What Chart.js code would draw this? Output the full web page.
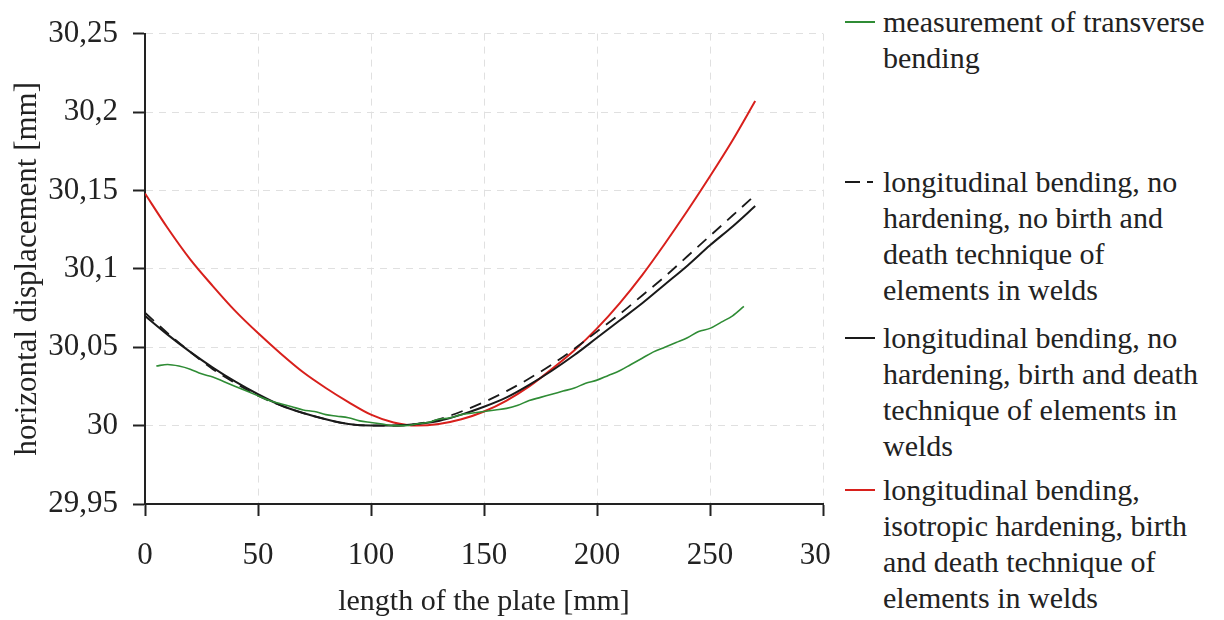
<!DOCTYPE html>
<html>
<head>
<meta charset="utf-8">
<script src="https://cdn.jsdelivr.net/npm/chart.js@4.4.0/dist/chart.umd.min.js"></script>
<style>
  html, body { margin: 0; padding: 0; background: #fff; }
  #wrap { position: relative; width: 1224px; height: 620px; }
  #legend {
    position: absolute; left: 831px; top: 0; width: 393px; height: 620px;
    background: #fff; font-family: 'Liberation Serif'; font-size: 30px;
    color: #222; line-height: 36px; white-space: nowrap;
  }
  .item { position: absolute; left: 14px; display: flex; }
  .swatch { width: 30px; height: 2px; margin-top: 17px; margin-right: 8px; flex: none; }
</style>
</head>
<body>
<div id="wrap">
  <canvas id="chart" width="1224" height="620"></canvas>
  <div id="legend"></div>
</div>
<script>
// x positions [mm] and displacements [mm]
var xMeas = [5, 10, 15, 20, 25, 30, 35, 40, 45, 50, 55, 60, 65, 70, 75, 80, 85, 90, 95, 100,
  105, 110, 115, 120, 125, 130, 135, 140, 145, 150, 155, 160, 165, 170, 175, 180, 185, 190,
  195, 200, 205, 210, 215, 220, 225, 230, 235, 240, 245, 250, 255, 260, 265];
var measured = [30.038, 30.039, 30.038, 30.036, 30.033, 30.031, 30.028, 30.025, 30.022, 30.019,
  30.016, 30.014, 30.012, 30.010, 30.009, 30.007, 30.006, 30.005, 30.003, 30.002,
  30.001, 30.000, 30.000, 30.001, 30.002, 30.004, 30.005, 30.007, 30.008, 30.009,
  30.010, 30.011, 30.013, 30.016, 30.018, 30.020, 30.022, 30.024, 30.027, 30.029,
  30.032, 30.035, 30.039, 30.043, 30.047, 30.050, 30.053, 30.056, 30.060, 30.062,
  30.066, 30.070, 30.076];

var xSim = [0, 10, 20, 30, 40, 50, 60, 70, 80, 90, 100, 110, 120, 130, 140, 150, 160, 170,
  180, 190, 200, 210, 220, 230, 240, 250, 260, 270];
var noBirthDeath = [30.072, 30.059, 30.047, 30.036, 30.027, 30.019, 30.013, 30.008, 30.004, 30.001,
  30.000, 30.000, 30.001, 30.004, 30.009, 30.015, 30.022, 30.030, 30.039, 30.049,
  30.060, 30.071, 30.083, 30.095, 30.108, 30.121, 30.134, 30.147];
var birthDeath = [30.070, 30.058, 30.047, 30.037, 30.028, 30.020, 30.013, 30.008, 30.004, 30.001,
  30.000, 30.000, 30.001, 30.003, 30.007, 30.012, 30.018, 30.026, 30.035, 30.045,
  30.056, 30.067, 30.078, 30.090, 30.102, 30.115, 30.127, 30.140];
var isotropic = [30.148, 30.126, 30.106, 30.089, 30.073, 30.059, 30.046, 30.034, 30.024, 30.015,
  30.007, 30.002, 30.000, 30.001, 30.004, 30.009, 30.016, 30.025, 30.036, 30.048,
  30.062, 30.078, 30.096, 30.116, 30.137, 30.159, 30.182, 30.207];

var seriesNames = [
  'measurement of transverse bending',
  'longitudinal bending, no hardening, no birth and death technique of elements in welds',
  'longitudinal bending, no hardening, birth and death technique of elements in welds',
  'longitudinal bending, isotropic hardening, birth and death technique of elements in welds'
];
var legendLines = [
  ['measurement of transverse', 'bending'],
  ['longitudinal bending, no', 'hardening, no birth and', 'death technique of', 'elements in welds'],
  ['longitudinal bending, no', 'hardening, birth and death', 'technique of elements in', 'welds'],
  ['longitudinal bending,', 'isotropic hardening, birth', 'and death technique of', 'elements in welds']
];
var colors = ['#2f8c35', '#1a1a1a', '#1a1a1a', '#d8201c'];

var yTickValues = [29.95, 30, 30.05, 30.1, 30.15, 30.2, 30.25];
var yTickLabels = ['29,95', '30', '30,05', '30,1', '30,15', '30,2', '30,25'];
var xTickValues = [0, 50, 100, 150, 200, 250, 300];
var xTickLabels = ['0', '50', '100', '150', '200', '250', '300'];

function pts(xs, ys) {
  return xs.map(function (x, i) { return { x: x, y: ys[i] }; });
}

var serif = 'Liberation Serif';

var data = {
  datasets: [
    { label: seriesNames[0], data: pts(xMeas, measured), borderColor: colors[0], borderWidth: 1.6 },
    { label: seriesNames[1], data: pts(xSim, noBirthDeath), borderColor: colors[1], borderWidth: 1.8, borderDash: [12, 8] },
    { label: seriesNames[2], data: pts(xSim, birthDeath), borderColor: colors[2], borderWidth: 2 },
    { label: seriesNames[3], data: pts(xSim, isotropic), borderColor: colors[3], borderWidth: 2 }
  ]
};
data.datasets.forEach(function (d) {
  d.pointRadius = 0;
  d.fill = false;
  d.cubicInterpolationMode = 'monotone';
});

var gridStyle = {
  color: '#e0e0e0',
  lineWidth: 1,
  tickColor: '#222',
  tickWidth: 2,
  tickLength: 12,
  tickBorderDash: []
};

var config = {
  type: 'line',
  data: data,
  options: {
    responsive: false,
    animation: false,
    layout: { padding: { left: 0, right: 401, top: 25, bottom: 0 } },
    plugins: { legend: { display: false }, tooltip: { enabled: false } },
    scales: {
      x: {
        type: 'linear', min: 0, max: 300,
        afterBuildTicks: function (s) { s.ticks = xTickValues.map(function (v) { return { value: v }; }); },
        afterFit: function (s) { s.height = 116; },
        ticks: {
          callback: function (v) { return xTickLabels[xTickValues.indexOf(v)]; },
          font: { family: serif, size: 31 }, color: '#222', padding: 21, maxRotation: 0
        },
        grid: gridStyle,
        border: { display: true, color: '#222', width: 2, dash: [7, 6] },
        title: {
          display: true, text: 'length of the plate [mm]',
          font: { family: serif, size: 30 }, color: '#222', padding: { top: 0, bottom: 0 }
        }
      },
      y: {
        type: 'linear', min: 29.95, max: 30.25,
        afterBuildTicks: function (s) { s.ticks = yTickValues.map(function (v) { return { value: v }; }); },
        afterFit: function (s) { s.width = 145; },
        ticks: {
          callback: function (v) { return yTickLabels[yTickValues.indexOf(v)]; },
          font: { family: serif, size: 31 }, color: '#222', padding: 15
        },
        grid: gridStyle,
        border: { display: true, color: '#222', width: 2, dash: [7, 6] },
        title: {
          display: true, text: 'horizontal displacement [mm]',
          font: { family: serif, size: 31 }, color: '#222', padding: { top: 9, bottom: 0 }
        }
      }
    }
  }
};

var chart = new Chart(document.getElementById('chart'), config);

// wrapped legend, items spaced evenly down the right side
var legend = document.getElementById('legend');
var itemTops = [4, 164, 320, 472];
legendLines.forEach(function (lines, i) {
  var item = document.createElement('div');
  item.className = 'item';
  item.style.top = itemTops[i] + 'px';
  var sw = document.createElement('span');
  sw.className = 'swatch';
  if (i === 1) {
    sw.style.background = 'linear-gradient(to right, ' + colors[i] + ' 0 15px, transparent 15px 22px, ' +
      colors[i] + ' 22px 28px, transparent 28px)';
  } else {
    sw.style.background = colors[i];
  }
  var txt = document.createElement('div');
  txt.innerHTML = lines.join('<br>');
  item.appendChild(sw);
  item.appendChild(txt);
  legend.appendChild(item);
});
</script>
</body>
</html>
